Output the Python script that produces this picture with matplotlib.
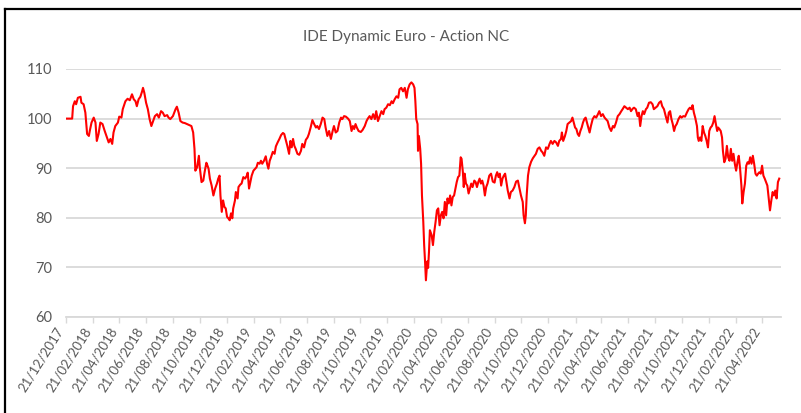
import numpy as np
import pandas as pd
import matplotlib
matplotlib.use("Agg")
import matplotlib.pyplot as plt
import matplotlib.dates as mdates
from matplotlib.lines import Line2D

plt.rcParams['font.family'] = ['Lato', 'DejaVu Sans']

title = "IDE Dynamic Euro - Action NC"
start = pd.Timestamp("2017-12-21")
end = pd.Timestamp("2022-06-03")

# trading day offsets from 21/12/2017 and index level (base 100)
days = [
    0, 14, 16, 20, 23, 27, 33, 35, 40, 44, 48, 52, 54, 58, 63, 67, 70, 74, 78, 83,
    88, 93, 97, 101, 105, 108, 112, 118, 121, 126, 129, 135, 140, 145, 150, 154, 158, 161, 165, 169,
    173, 175, 178, 182, 186, 190, 194, 198, 202, 207, 211, 216, 220, 224, 230, 233, 237, 243, 249, 252,
    256, 260, 265, 270, 275, 280, 285, 289, 292, 294, 298, 302, 304, 308, 312, 315, 319,
    320, 324, 327, 331, 335, 339, 343, 346, 349, 351, 354, 357, 360, 363, 366, 369, 372, 375, 378, 380,
    384, 386, 390, 392, 396, 399, 403, 407, 411, 413, 416, 419, 422, 426, 430, 433, 436, 440, 443, 446,
    450, 454, 457, 460, 463, 466, 470, 474, 477, 481, 485, 489, 493, 496, 499, 503, 507, 510, 513, 516,
    519, 522, 526, 530, 534, 537, 541, 545, 549, 552, 556, 560, 564, 568, 571, 575, 579, 583, 587, 590,
    594, 598, 602, 606, 609, 613, 617, 621, 625, 628, 632, 636,
    641, 645, 649, 652, 655, 658, 661, 665, 670, 674, 679, 683, 686, 690, 694, 698, 702, 705, 709, 713,
    717, 721, 724, 728, 732, 736, 740, 743, 747, 751, 755, 758, 762, 766, 770, 774, 777, 781, 785, 789,
    792, 794, 796, 799, 800, 802, 805, 807, 809, 812, 814, 816, 818, 821, 823, 825, 827, 831, 834, 837,
    840, 843, 846, 849, 852, 855, 858, 861, 864, 867, 870, 873, 876, 879, 882, 885, 888, 891, 894, 897,
    899, 902, 904, 906, 909, 912, 915, 918, 921, 924, 928, 931, 934, 937, 940, 943, 946, 949, 952, 955,
    958, 962,
    966, 970, 974, 977, 980, 983, 986, 989, 992, 995, 998, 1001, 1004, 1008, 1011, 1015, 1019, 1023, 1027, 1030,
    1034, 1038, 1040, 1043, 1045, 1047, 1050, 1053, 1057, 1061, 1065, 1068, 1072, 1076, 1080, 1083, 1087, 1091, 1095, 1099,
    1102, 1106, 1110, 1114, 1118, 1121, 1125, 1127, 1130, 1134, 1137, 1140, 1144, 1148, 1151, 1154, 1157, 1160, 1163, 1166,
    1169, 1172, 1175, 1178, 1181, 1184, 1187, 1190, 1193, 1197, 1201, 1205, 1209, 1212, 1216, 1220, 1224, 1227, 1231, 1235,
    1239, 1243, 1246, 1250, 1254, 1258, 1262, 1265, 1269, 1273, 1277, 1281, 1284, 1288,
    1291, 1295, 1299, 1302, 1305, 1308, 1311, 1314, 1318, 1321, 1325, 1329, 1333, 1336, 1340, 1344, 1348, 1352, 1355, 1359,
    1363, 1367, 1370, 1373, 1376, 1379, 1382, 1385, 1388, 1392, 1396, 1399, 1403, 1407, 1411, 1415, 1418, 1421, 1424, 1427,
    1430, 1434, 1436, 1438, 1441, 1444, 1447, 1450, 1453, 1456, 1459, 1462, 1465, 1468, 1471, 1474, 1477, 1480, 1482, 1485,
    1488, 1491, 1493, 1496, 1499, 1502, 1505, 1508, 1511, 1514, 1517, 1520, 1523, 1526, 1529, 1532, 1535, 1537, 1540, 1543,
    1546, 1549, 1552, 1555, 1558, 1561, 1564, 1567, 1570, 1573, 1576, 1579, 1582, 1585, 1588, 1591, 1594, 1597, 1600, 1603,
    1606, 1609, 1612, 1615, 1618, 1621,
]
values = [
    100, 100, 102.5, 103.5, 102.9, 104.2, 104.4, 103.2, 102.9, 101.2, 96.9, 96.5, 97.5, 99.2, 100.2, 99.2, 95.5, 96.9, 99.2, 98.9,
    97.5, 96.2, 95.2, 95.9, 94.9, 97.2, 98.5, 99.2, 100.4, 100.2, 101.9, 103.5, 104, 103.7, 104.9, 103.9, 103.5, 102.5, 103.9, 104.4,
    105.5, 106.2, 105.2, 103.2, 101.9, 99.9, 98.5, 99.5, 100.5, 100.9, 100.2, 101.5, 101.2, 100.5, 100.7, 100.2, 99.9, 100.5, 101.9, 102.4,
    101.2, 99.5, 99.2, 99.1, 98.9, 98.7, 98.5, 97.2, 93.9, 89.5, 90.2, 92.5, 90.2, 87.2, 87.5, 89.2, 91.1,
    90.9, 89.9, 87.9, 86.5, 84.5, 85.9, 86.9, 87.9, 88.5, 84.5, 81.2, 83.5, 82.2, 81.9, 80.2, 79.9, 79.5, 80.9, 79.9, 81.9,
    83.5, 85.2, 83.9, 86.2, 86.7, 86.9, 88.2, 87.9, 88.5, 89.1, 85.9, 87.2, 88.5, 89.5, 89.9, 90.2, 91.1, 90.9, 91.5, 90.9,
    91.5, 92.4, 90.9, 89.9, 91.5, 92.2, 93.3, 92.9, 94.4, 95.2, 95.9, 96.7, 97.1, 96.9, 95.9, 94.5, 92.9, 95.5, 94.2, 95.9,
    94.5, 93.9, 92.9, 92.7, 93.5, 94.9, 94.2, 95.7, 96.2, 96.9, 98.2, 99.7, 98.9, 98.2, 98.5, 97.9, 98.9, 100.2, 99.9, 98.2,
    96.5, 97.5, 95.9, 97.5, 98.5, 97.2, 97.5, 99.2, 100.2, 99.9, 100.5, 100.4,
    100, 99.5, 97.5, 98.5, 97.9, 98.9, 98.2, 97.5, 97.3, 97.7, 98.5, 99.5, 100, 100.5, 99.9, 100.9, 99.9, 101.5, 99.5, 100.5,
    101.5, 100.9, 101.9, 102.2, 102.9, 102.7, 103.5, 103.1, 103.9, 104.5, 104.2, 105.9, 106.2, 105.5, 106.2, 104.2, 105.9, 106.9, 107.3, 106.9,
    106.2, 103.5, 99.9, 98.9, 93.5, 96.5, 93.9, 90.9, 84.5, 79.2, 74.5, 71.2, 67.4, 71.2, 69.9, 73.2, 77.5, 76.5, 74.5, 77.2,
    79.2, 81.5, 81.9, 78.5, 80.5, 81.2, 79.9, 83.2, 80.5, 83.9, 82.9, 84.5, 82.5, 84.2, 84.5, 85.9, 87.2, 88.2, 88.5, 92.2,
    91.9, 89.2, 86.2, 88.9, 86.9, 86.5, 84.9, 85.9, 86.9, 86.2, 87.5, 87.2, 86.2, 87.2, 87.9, 86.9, 87.5, 86.5, 84.5, 86.2,
    86.9, 88.5,
    88.9, 87.3, 87.1, 88.5, 89.2, 88.2, 88.9, 86.5, 87.9, 88.5, 88.9, 87.2, 85.5, 83.9, 85.2, 85.5, 86.2, 87.3, 87.5, 86.2,
    84.5, 83.2, 80.5, 78.9, 80.5, 84.5, 88.5, 90.2, 91.3, 92, 92.5, 92.9, 93.9, 94.2, 93.5, 93.2, 92.5, 94.2, 93.9, 94.9,
    95.5, 94.9, 95.5, 95.2, 94.5, 95.5, 95.9, 97.2, 95.5, 96.5, 97.5, 98.9, 99.2, 99.5, 100.2, 99.2, 98.2, 97.9, 96.9, 96.5,
    97.5, 98.2, 99.2, 99.9, 100.2, 99.2, 98.2, 97.2, 98.5, 99.9, 100.5, 100.2, 100.9, 101.5, 100.5, 100.9, 100.2, 99.9, 99.5, 98.2,
    97.5, 98.5, 98.2, 99.2, 100.5, 100.9, 101.5, 101.9, 102.5, 102.2, 101.9, 102.2, 101.5, 102,
    102.2, 101.9, 100.5, 101.2, 98.5, 100.5, 101.5, 100.9, 101.9, 102.2, 103.2, 103.3, 102.9, 101.9, 102.2, 102.5, 103.2, 103.5, 102.5, 101.9,
    100.5, 99.2, 101.2, 101.5, 99.9, 98.9, 97.5, 98.5, 98.9, 99.9, 100.5, 100.2, 100.5, 100.4, 101.2, 101.9, 102.2, 101.9, 102.7, 101.2,
    100.2, 98.5, 96.2, 95.5, 96.2, 95.5, 98.5, 97.2, 96.5, 95.5, 94.2, 97.5, 98.2, 98.5, 99.2, 100.5, 98.9, 97.5, 98.2, 97.9,
    97.5, 96.2, 93.5, 91.2, 91.9, 94.5, 92.2, 91.5, 93.9, 91.5, 92.9, 90.9, 89.5, 91.2, 92.5, 89.9, 86.5, 82.9, 85.2, 86.9,
    90.5, 91.2, 90.9, 92.2, 90.9, 92.5, 90.9, 88.9, 88.5, 88.9, 89.2, 88.9, 90.5, 88.5, 87.9, 87.2, 86.5, 83.9, 81.5, 83.5,
    85.2, 84.5, 85.5, 83.9, 87.2, 87.9,
]

dates = start + pd.to_timedelta(days, unit="D")
tick_dates = pd.date_range(start, "2022-04-21", freq=pd.DateOffset(months=2))
tick_labels = [d.strftime("%d/%m/%Y") for d in tick_dates]

grey_txt = "#595959"
grid_col = "#d9d9d9"

fig = plt.figure(figsize=(8.01, 4.13), dpi=100)
ax = fig.add_axes([66 / 801, 1 - 317 / 413, 715 / 801, 248 / 413])

ax.plot(dates, values, color="#ff0000", lw=1.5)

ax.set_xlim(start, end)
ax.set_ylim(60, 110)
ax.set_yticks(range(60, 111, 10))
ax.set_xticks(tick_dates)
ax.set_xticklabels(tick_labels, rotation=58, ha="right", rotation_mode="default")

ax.grid(axis="y", color=grid_col, lw=1.3)
ax.set_axisbelow(True)
for s in ["top", "right", "left"]:
    ax.spines[s].set_visible(False)
ax.spines["bottom"].set_color(grid_col)
ax.spines["bottom"].set_linewidth(1.3)
ax.tick_params(axis="y", length=0, pad=10, labelsize=10.5, labelcolor=grey_txt)
ax.tick_params(axis="x", length=4, color=grid_col, width=1, pad=2, labelsize=9.5, labelcolor=grey_txt)

fig.text(0.507, 1 - 37 / 413, title, ha="center", va="center", fontsize=11, color=grey_txt)

# frame of the chart area
fig.add_artist(Line2D([5 / 801, 1], [1 - 9 / 413, 1 - 9 / 413], color="black", lw=1.6, transform=fig.transFigure))
fig.add_artist(Line2D([5 / 801, 5 / 801], [0, 1 - 9 / 413], color="black", lw=1.6, transform=fig.transFigure))

fig.savefig("out.png", dpi=100)
